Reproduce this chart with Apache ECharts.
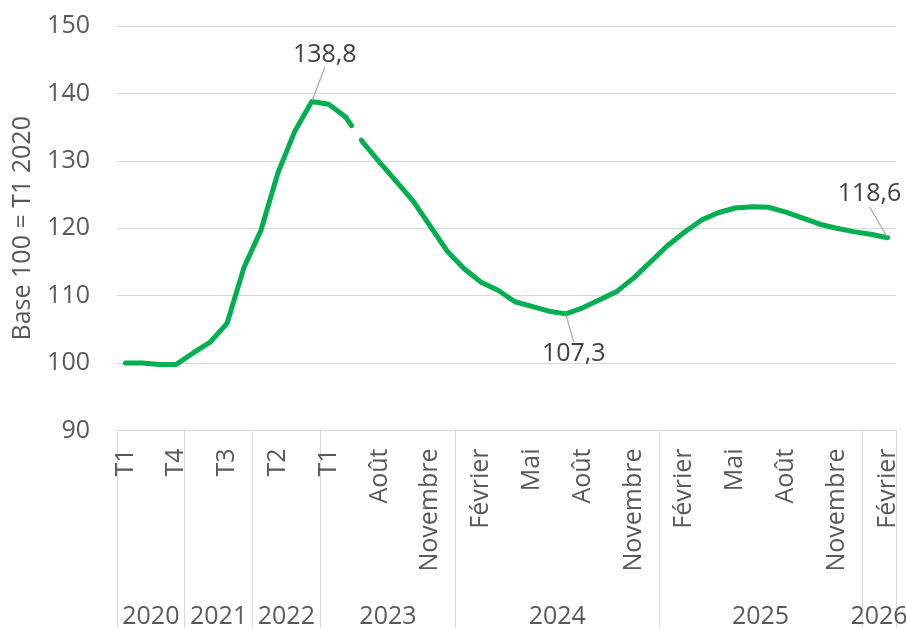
<!DOCTYPE html>
<html lang="fr">
<head>
<meta charset="utf-8">
<title>Base 100 = T1 2020</title>
<script src="https://cdn.jsdelivr.net/npm/echarts@6/dist/echarts.min.js"></script>
<style>
  html, body { margin: 0; padding: 0; background: #ffffff; }
  #chart { width: 906px; height: 628px; }
</style>
</head>
<body>
<div id="chart"></div>
<script>
// périodes : trimestres jusqu'à T2 2023, puis mois
const periodes = [
  'T1', 'T2', 'T3', 'T4',
  'T1', 'T2', 'T3', 'T4',
  'T1', 'T2', 'T3', 'T4',
  'T1', 'T2', 'Juillet', 'Août', 'Septembre', 'Octobre', 'Novembre', 'Décembre',
  'Janvier', 'Février', 'Mars', 'Avril', 'Mai', 'Juin', 'Juillet', 'Août', 'Septembre', 'Octobre', 'Novembre', 'Décembre',
  'Janvier', 'Février', 'Mars', 'Avril', 'Mai', 'Juin', 'Juillet', 'Août', 'Septembre', 'Octobre', 'Novembre', 'Décembre',
  'Janvier', 'Février'
];
const annees = ['2020', '2021', '2022', '2023', '2024', '2025', '2026'];
const nbPeriodesParAnnee = [4, 4, 4, 8, 12, 12, 2];

// indice base 100 = T1 2020
const indice = [
  100.0, 100.0, 99.8, 99.8,
  101.5, 103.1, 105.9, 114.2,
  119.7, 128.2, 134.4, 138.8,
  138.4, 136.5, 132.8, 129.8, 126.9, 124.0, 120.3, 116.6,
  114.0, 112.0, 110.8, 109.1, 108.4, 107.7, 107.3, 108.2, 109.4, 110.6, 112.6, 115.0,
  117.4, 119.4, 121.2, 122.3, 123.0, 123.2, 123.1, 122.4, 121.5, 120.6, 120.0, 119.5,
  119.1, 118.6
];

const yMin = 90;
const yMax = 150;
const yPas = 10;

const dernierAvantRupture = 13; // T2 2023, la courbe est interrompue juste après

const VERT = '#00b050';
const GRIS_TEXTE = '#595959';
const GRIS_LIGNE = '#d9d9d9';
const POLICE = '"Open Sans", "Noto Sans", sans-serif';

// bornes des années (en nombre de périodes) et centres pour les libellés d'années
const bornes = [0];
nbPeriodesParAnnee.forEach((n, i) => bornes.push(bornes[i] + n));
const centres = nbPeriodesParAnnee.map((n, i) => bornes[i] + n / 2);

// étiquettes de données (placement seulement, la valeur vient de `indice`)
const etiquettes = {
  11: {position: 'top', dx: 13, dy: -28},
  26: {position: 'bottom', dx: 8, dy: 22},
  45: {position: 'top', dx: -18, dy: -25}
};

const fmt = v => v.toFixed(1).replace('.', ',');

const point = (v, i) => {
  const e = etiquettes[i];
  if (!e) return v;
  return {
    value: v,
    symbol: 'circle',
    symbolSize: 2,
    label: {
      show: true,
      position: e.position,
      distance: 5,
      formatter: p => fmt(p.value),
      color: '#404040',
      fontSize: 25,
      fontFamily: POLICE
    },
    labelLine: {
      show: true,
      lineStyle: {color: '#a6a6a6', width: 1.2}
    }
  };
};

// déplacement des étiquettes : le trait de rappel est recalculé par ECharts
const placerEtiquette = params => {
  const e = etiquettes[params.dataIndex];
  return e ? {dx: e.dx, dy: e.dy} : {};
};

const avant = indice.map((v, i) => (i <= dernierAvantRupture ? point(v, i) : null));
const apres = indice.map((v, i) => (i > dernierAvantRupture ? point(v, i) : null));
const raccord = indice.map((v, i) => (i === dernierAvantRupture || i === dernierAvantRupture + 1 ? v : null));

const styleCourbe = {color: VERT, width: 5, cap: 'round', join: 'round'};

const chart = echarts.init(document.getElementById('chart'), null, {renderer: 'canvas'});

chart.setOption({
  animation: false,
  backgroundColor: '#ffffff',
  grid: {
    left: 117,
    right: 10,
    top: 26,
    bottom: 197.5,
    containLabel: false,
    outerBoundsMode: 'none'
  },
  xAxis: [
    {
      type: 'category',
      data: periodes,
      boundaryGap: true,
      axisLine: {show: true, lineStyle: {color: GRIS_LIGNE, width: 1}},
      axisTick: {show: false},
      splitLine: {show: false},
      axisLabel: {
        interval: 2,
        rotate: 90,
        margin: 18,
        color: GRIS_TEXTE,
        fontSize: 25,
        fontFamily: POLICE
      }
    },
    {
      // niveau "années" : séparateurs et libellés centrés
      type: 'value',
      min: 0,
      max: bornes[bornes.length - 1],
      position: 'bottom',
      axisLine: {show: false},
      splitLine: {show: false},
      axisTick: {
        show: true,
        customValues: bornes,
        length: 198,
        lineStyle: {color: GRIS_LIGNE, width: 1}
      },
      axisLabel: {
        customValues: centres,
        formatter: v => annees[centres.indexOf(v)] || '',
        margin: 174,
        color: GRIS_TEXTE,
        fontSize: 25,
        fontFamily: POLICE
      }
    }
  ],
  yAxis: {
    type: 'value',
    min: yMin,
    max: yMax,
    interval: yPas,
    name: 'Base 100 = T1 2020',
    nameLocation: 'middle',
    nameGap: 82,
    nameTextStyle: {color: GRIS_TEXTE, fontSize: 25, fontFamily: POLICE},
    axisLine: {show: false},
    axisTick: {show: false},
    axisLabel: {margin: 27, color: GRIS_TEXTE, fontSize: 25, fontFamily: POLICE},
    splitLine: {show: true, lineStyle: {color: GRIS_LIGNE, width: 1}}
  },
  series: [
    {
      type: 'line',
      xAxisIndex: 0,
      data: avant,
      symbol: 'none',
      showSymbol: true,
      smooth: false,
      lineStyle: styleCourbe,
      itemStyle: {color: VERT},
      labelLayout: placerEtiquette,
      z: 3
    },
    {
      type: 'line',
      xAxisIndex: 0,
      data: raccord,
      symbol: 'none',
      smooth: false,
      lineStyle: Object.assign({}, styleCourbe, {type: [10.5, 17.5, 100]}),
      z: 2
    },
    {
      type: 'line',
      xAxisIndex: 0,
      data: apres,
      symbol: 'none',
      showSymbol: true,
      smooth: false,
      lineStyle: styleCourbe,
      itemStyle: {color: VERT},
      labelLayout: placerEtiquette,
      z: 3
    }
  ]
});
</script>
</body>
</html>
